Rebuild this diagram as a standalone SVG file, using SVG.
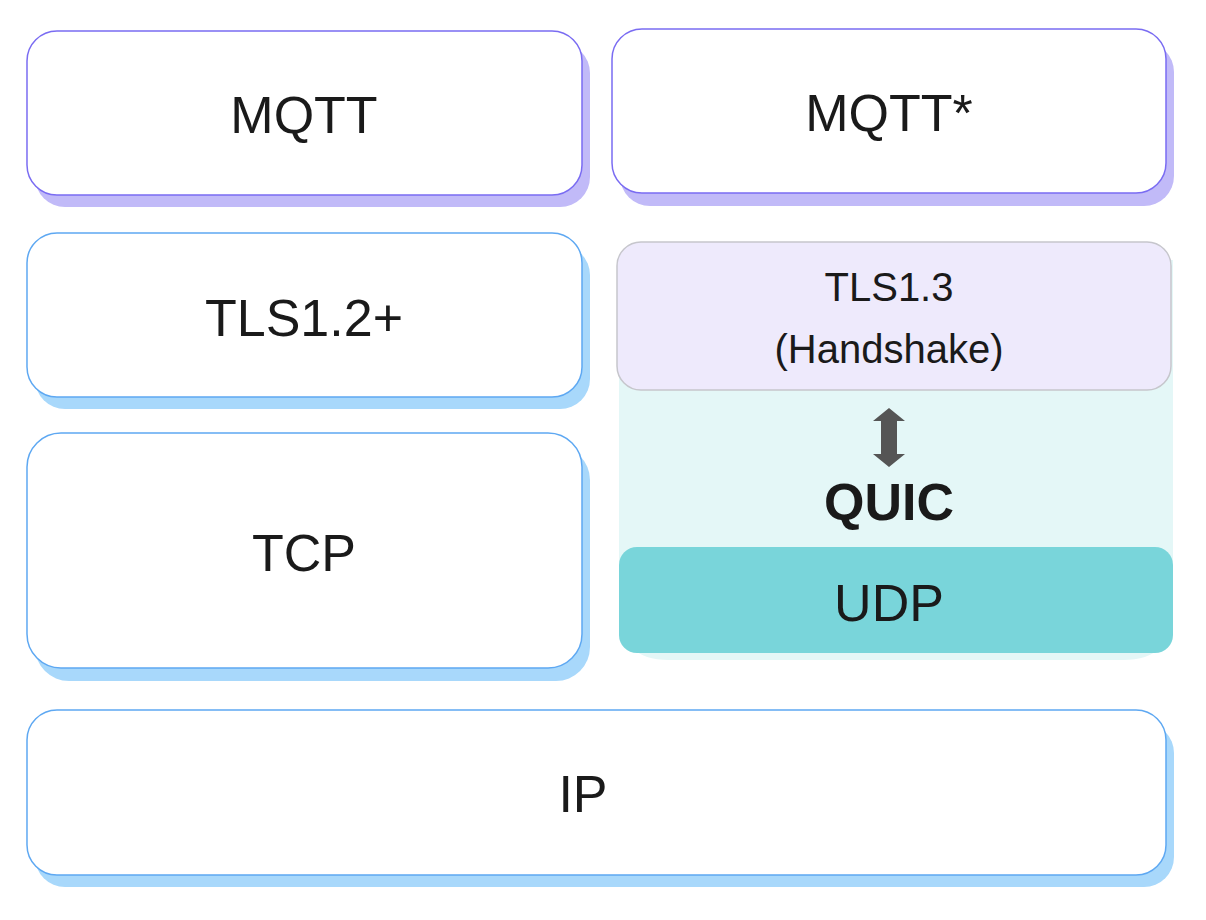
<svg xmlns="http://www.w3.org/2000/svg" width="1206" height="920" viewBox="0 0 1206 920">
<style>
.t{font-family:"Liberation Sans",Arial,sans-serif;fill:#1a1a1a;text-anchor:middle}
.box{fill:#fff;stroke-width:1.5}
.pu{stroke:#7a6cf2}
.bl{stroke:#5ea8f2}
.shp{fill:#c1baf8}
.shb{fill:#a8d8fb}
</style>
<rect width="1206" height="920" fill="#fff"/>
<g id="mqtt">
<rect class="shp" x="35" y="43" width="555" height="164" rx="30"/>
<rect class="box pu" x="27" y="31" width="555" height="164" rx="30"/>
<text class="t" x="304" y="133" font-size="52">MQTT</text>
</g>
<g id="mqtt-star">
<rect class="shp" x="620" y="42" width="554" height="164" rx="30"/>
<rect class="box pu" x="612" y="29" width="554" height="164" rx="30"/>
<text class="t" x="889" y="131" font-size="52">MQTT*</text>
</g>
<g id="tls12">
<rect class="shb" x="35" y="245" width="555" height="164" rx="30"/>
<rect class="box bl" x="27" y="233" width="555" height="164" rx="30"/>
<text class="t" x="304" y="336" font-size="52">TLS1.2+</text>
</g>
<g id="tcp">
<rect class="shb" x="35" y="446" width="555" height="235" rx="34"/>
<rect class="box bl" x="27" y="433" width="555" height="235" rx="34"/>
<text class="t" x="304" y="571" font-size="52">TCP</text>
</g>
<g id="quic">
<path d="M619 260 H1173 V610 Q1173 660 1123 660 H669 Q619 660 619 610 Z" fill="#e4f7f7"/>
<text class="t" x="889" y="520" font-size="52" font-weight="bold">QUIC</text>
</g>
<g id="tls13">
<rect x="617" y="242" width="554" height="148" rx="24" fill="#eeeafc" stroke="#c6c6cc" stroke-width="1.5"/>
<text class="t" x="889" y="301" font-size="40">TLS1.3</text>
<text class="t" x="889" y="363" font-size="40">(Handshake)</text>
</g>
<g id="udp">
<rect x="619" y="547" width="554" height="106" rx="18" fill="#79d5da"/>
<text class="t" x="889" y="621" font-size="52">UDP</text>
</g>
<g id="ip">
<rect class="shb" x="35" y="723" width="1139" height="164" rx="30"/>
<rect class="box bl" x="27" y="710" width="1139" height="165" rx="30"/>
<text class="t" x="583" y="812" font-size="52">IP</text>
</g>
<g id="connectors">
<path d="M889 408 L905 421 H897 V454 H905 L889 467 L873 454 H881 V421 H873 Z" fill="#555"/>
</g>
</svg>
